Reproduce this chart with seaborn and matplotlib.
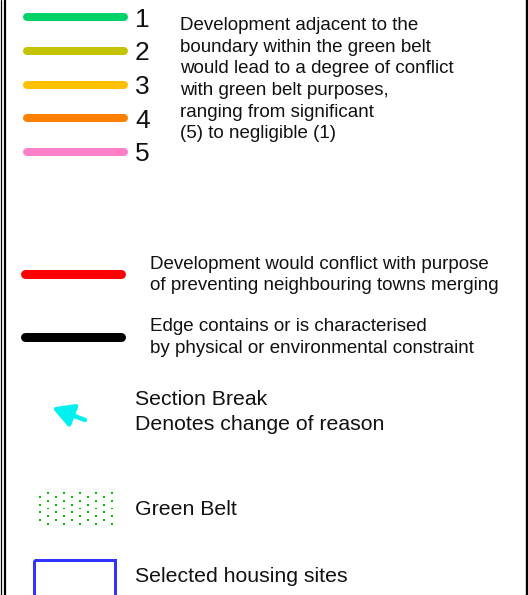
import numpy as np
import pandas as pd
import seaborn as sns
import matplotlib.pyplot as plt

sns.set_theme(style="white")
plt.rcParams['font.family'] = ['Liberation Sans', 'DejaVu Sans']

# Datos de la leyenda
grades = ["1", "2", "3", "4", "5"]
grade_colors = ["#00D26A", "#C3C300", "#FFC000", "#FF8000", "#FF80C8"]
grade_text = [
    "Development adjacent to the",
    "boundary within the green belt",
    "would lead to a degree of conflict",
    "with green belt purposes,",
    "ranging from significant",
    "(5) to negligible (1)",
]
edge_names = ["merging", "constraint"]
edge_colors = ["#FF0000", "#000000"]
edge_text = [
    ["Development would conflict with purpose",
     "of preventing neighbouring towns merging"],
    ["Edge contains or is characterised",
     "by physical or environmental constraint"],
]
section_text = ["Section Break", "Denotes change of reason"]
green_belt_label = "Green Belt"
sites_label = "Selected housing sites"

fig = plt.figure(figsize=(5.28, 5.95), dpi=100)
ax = fig.add_axes([0, 0, 1, 1])

# === Lineas de grado 1-5 ===
grade_y0, grade_step = 17.3, 33.6
grade_df = pd.DataFrame({
    "grade": np.repeat(grades, 2),
    "x": [26.7, 124.0] * len(grades),
    "y": np.repeat(grade_y0 + grade_step * np.arange(len(grades)), 2),
})
sns.lineplot(data=grade_df, x="x", y="y", hue="grade", units="grade",
             estimator=None, sort=False, palette=dict(zip(grades, grade_colors)),
             lw=8 * 0.72, solid_capstyle="round", legend=False, ax=ax)
for i, g in enumerate(grades):
    ax.text(135, grade_y0 + grade_step * i + 9.5, g, fontsize=19,
            va="baseline", ha="left", color="#111111")
for i, line in enumerate(grade_text):
    ax.text(180, 30 + 21.7 * i, line, fontsize=13.5, va="baseline",
            color="#111111")

# === Lineas de conflicto / restriccion ===
edge_y = [274.3, 336.7]
edge_df = pd.DataFrame({
    "kind": np.repeat(edge_names, 2),
    "x": [25.2, 121.2] * len(edge_names),
    "y": np.repeat(edge_y, 2),
})
sns.lineplot(data=edge_df, x="x", y="y", hue="kind", units="kind",
             estimator=None, sort=False, palette=dict(zip(edge_names, edge_colors)),
             lw=9 * 0.72, solid_capstyle="round", legend=False, ax=ax)
for k, lines in enumerate(edge_text):
    for i, line in enumerate(lines):
        ax.text(150, edge_y[k] - 5.5 + 21.7 * i, line, fontsize=13.5,
                va="baseline", color="#111111")

# === Flecha de cambio de seccion ===
ax.annotate("", xy=(52, 407.5), xytext=(85, 420),
            arrowprops=dict(arrowstyle="-|>,head_length=0.9,head_width=0.5",
                            mutation_scale=14, color="#00F0F0", lw=3.2,
                            shrinkA=0, shrinkB=0))
for i, line in enumerate(section_text):
    ax.text(135, 405 + 25 * i, line, fontsize=15.3, va="baseline",
            color="#111111")

# === Cinturon verde (patron de puntos) ===
rows = np.arange(9)
cols = np.arange(5)
rr, cc = np.meshgrid(rows, cols)
dots = pd.DataFrame({
    "x": (40 + 16 * cc + 8 * ((rr + 1) % 2)).ravel(),
    "y": (492.7 + 3.95 * rr).ravel(),
})
sns.scatterplot(data=dots, x="x", y="y", s=2, color="#00C000",
                edgecolor="none", marker="s", ax=ax)
ax.text(135, 515, green_belt_label, fontsize=15.3, va="baseline", color="#111111")

# === Sitios de vivienda ===
ax.add_patch(plt.Rectangle((33.5, 559.5), 81, 45, fill=False,
                           edgecolor="#3333FF", lw=3 * 0.72))
ax.text(135, 581.7, sites_label, fontsize=15.3, va="baseline", color="#111111")

# Bordes del marco
ax.axvline(0.5, color="black", lw=0.9)
ax.axvline(5, color="black", lw=1.6)
ax.axvline(526.5, color="black", lw=2.4)

ax.set_xlim(0, 528)
ax.set_ylim(595, 0)
ax.axis("off")

plt.savefig("out.png", dpi=100)
